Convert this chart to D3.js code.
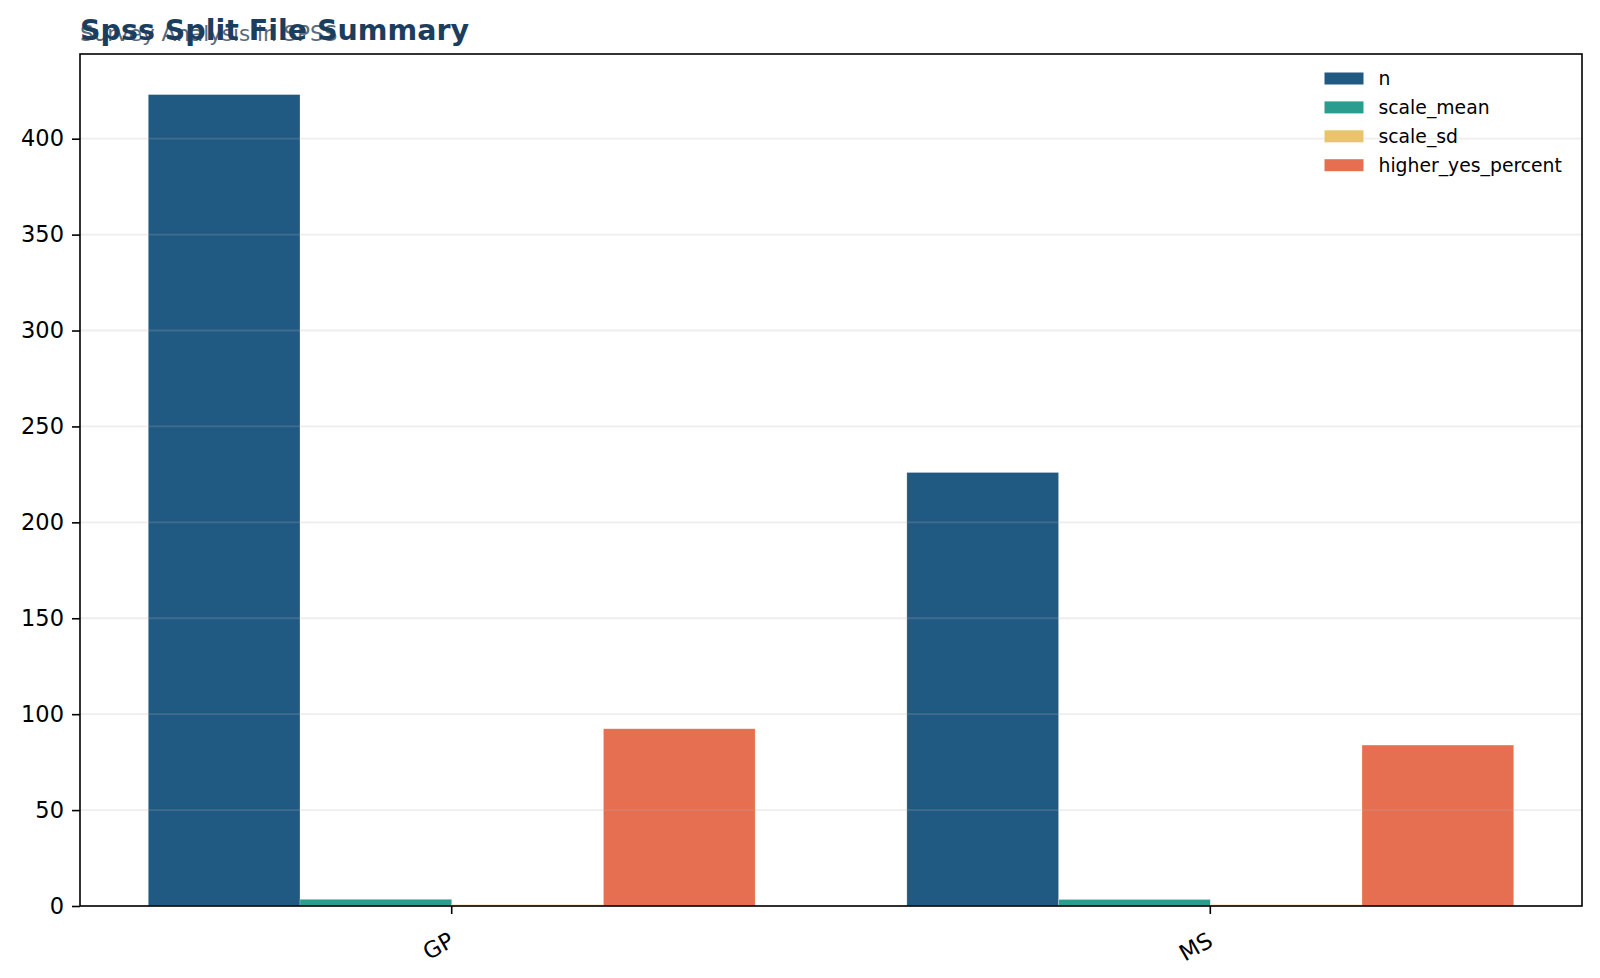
<!DOCTYPE html>
<html lang="en">
<head>
<meta charset="utf-8">
<title>Spss Split File Summary</title>
<script src="https://cdnjs.cloudflare.com/ajax/libs/d3/7.8.5/d3.min.js"></script>
<style>
    body { margin: 0; background: #fff; }
    text { font-family: "DejaVu Sans", sans-serif; }
</style>
</head>
<body>
<div id="chart"></div>
<script>
    // data
    var groups = ["GP", "MS"];
    var seriesKeys = ["n", "scale_mean", "scale_sd", "higher_yes_percent"];
    var nValues = [423, 226];
    var scaleMean = [3.5, 3.4];
    var scaleSd = [0.7, 0.7];
    var higherYesPercent = [92.4, 83.9];
    var yTicks = [0, 50, 100, 150, 200, 250, 300, 350, 400];

    var colors = {
        n: "#205a83",
        scale_mean: "#2a9d8f",
        scale_sd: "#e9c46a",
        higher_yes_percent: "#e76f51"
    };

    var rows = groups.map(function (g, i) {
        return {
            group: g,
            n: nValues[i],
            scale_mean: scaleMean[i],
            scale_sd: scaleSd[i],
            higher_yes_percent: higherYesPercent[i]
        };
    });

    var W = 1600, H = 978;
    var margin = {top: 54, right: 18, bottom: 72, left: 80},
        width = W - margin.left - margin.right,
        height = H - margin.top - margin.bottom;

    var svg = d3.select("#chart").append("svg")
        .attr("width", W)
        .attr("height", H);

    var g = svg.append("g")
        .attr("transform", "translate(" + margin.left + "," + margin.top + ")");

    var x0 = d3.scaleBand().domain(groups).range([0, width])
        .paddingInner(0.2).paddingOuter(0.09);
    var x1 = d3.scaleBand().domain(seriesKeys).range([0, x0.bandwidth()]);
    var y = d3.scaleLinear().domain([0, d3.max(nValues) * 1.05]).range([height, 0]);

    // bars
    g.selectAll("g.grp").data(rows).enter().append("g")
        .attr("class", "grp")
        .attr("transform", function (d) { return "translate(" + x0(d.group) + ",0)"; })
        .selectAll("rect")
        .data(function (d) { return seriesKeys.map(function (k) { return {key: k, value: d[k]}; }); })
        .enter().append("rect")
        .attr("x", function (d) { return x1(d.key); })
        .attr("width", x1.bandwidth())
        .attr("y", function (d) { return y(d.value); })
        .attr("height", function (d) { return y(0) - y(d.value); })
        .attr("fill", function (d) { return colors[d.key]; })
        .attr("stroke", "#fff")
        .attr("stroke-opacity", 0.4)
        .attr("stroke-width", 0.6);

    // horizontal gridlines drawn above the bars
    g.append("g").selectAll("line").data(yTicks).enter().append("line")
        .attr("x1", 0).attr("x2", width)
        .attr("y1", function (d) { return y(d); })
        .attr("y2", function (d) { return y(d); })
        .attr("stroke", "#b0b0b0")
        .attr("stroke-opacity", 0.22)
        .attr("stroke-width", 1.8);

    // axes
    var yAxis = g.append("g")
        .call(d3.axisLeft(y).tickValues(yTicks).tickSize(8).tickPadding(8));
    yAxis.select(".domain").remove();
    yAxis.selectAll("text").attr("font-size", 22.5).attr("fill", "#000")
        .style("font-family", "DejaVu Sans, sans-serif");
    yAxis.selectAll("line").attr("stroke", "#000").attr("stroke-width", 1.6);

    var xAxis = g.append("g")
        .attr("transform", "translate(0," + height + ")")
        .call(d3.axisBottom(x0).tickSize(8).tickSizeOuter(0));
    xAxis.select(".domain").remove();
    xAxis.selectAll("line").attr("stroke", "#000").attr("stroke-width", 1.6);
    xAxis.selectAll("text")
        .attr("font-size", 22.5).attr("fill", "#000")
        .style("font-family", "DejaVu Sans, sans-serif")
        .attr("text-anchor", "end")
        .attr("x", 0).attr("y", 0)
        .attr("dy", null)
        .attr("transform", "translate(4,39) rotate(-30)");

    // frame
    g.append("rect")
        .attr("x", 0).attr("y", 0)
        .attr("width", width).attr("height", height)
        .attr("fill", "none")
        .attr("stroke", "#000")
        .attr("stroke-width", 1.6);

    // legend
    var legend = g.append("g")
        .attr("transform", "translate(" + (width - 257.5) + ",18.5)");
    var item = legend.selectAll("g").data(seriesKeys).enter().append("g")
        .attr("transform", function (d, i) { return "translate(0," + (i * 28.9) + ")"; });
    item.append("rect")
        .attr("width", 39).attr("height", 12)
        .attr("fill", function (d) { return colors[d]; });
    item.append("text")
        .attr("x", 54).attr("y", 6)
        .attr("dy", "0.35em")
        .attr("font-size", 18.8)
        .attr("fill", "#000")
        .text(function (d) { return d; });

    // title and subtitle (overlapping, as in the original)
    svg.append("text")
        .attr("x", 80).attr("y", 41)
        .attr("font-size", 21.5)
        .attr("fill", "#5b6b7a")
        .text("Survey Analysis in SPSS");
    svg.append("text")
        .attr("x", 80).attr("y", 39.5)
        .attr("font-size", 28.5)
        .attr("font-weight", "bold")
        .attr("fill", "#1b3d5e")
        .text("Spss Split File Summary");
</script>
</body>
</html>
